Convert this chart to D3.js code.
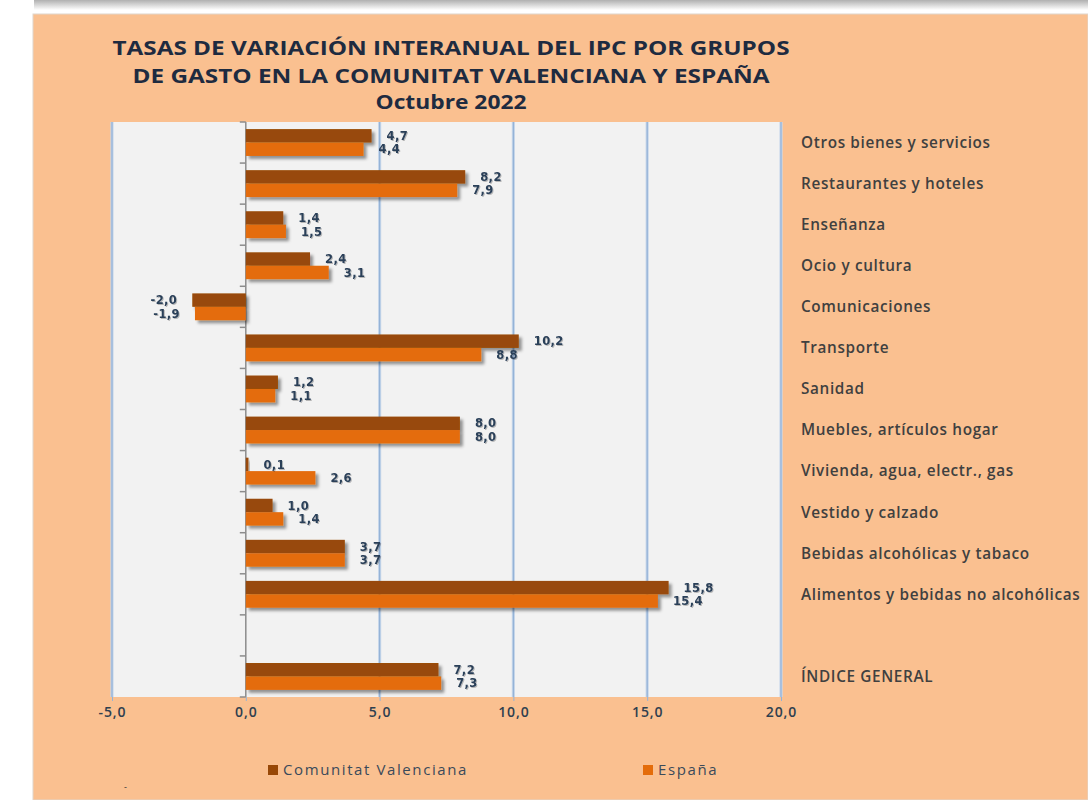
<!DOCTYPE html>
<html>
<head>
<meta charset="utf-8">
<script src="https://cdn.jsdelivr.net/npm/d3@7"></script>
<style>
  html, body { margin: 0; padding: 0; background: #ffffff; }
  svg { display: block; }
</style>
</head>
<body>
<div id="chart"></div>
<script>
// ---- Data ----
const categories = [
  "Otros bienes y servicios",
  "Restaurantes y hoteles",
  "Enseñanza",
  "Ocio y cultura",
  "Comunicaciones",
  "Transporte",
  "Sanidad",
  "Muebles, artículos hogar",
  "Vivienda, agua, electr., gas",
  "Vestido y calzado",
  "Bebidas alcohólicas y tabaco",
  "Alimentos y bebidas no alcohólicas",
  "",
  "ÍNDICE GENERAL"
];
const valuesCV = [4.7, 8.2, 1.4, 2.4, -2.0, 10.2, 1.2, 8.0, 0.1, 1.0, 3.7, 15.8, null, 7.2];
const valuesES = [4.4, 7.9, 1.5, 3.1, -1.9, 8.8, 1.1, 8.0, 2.6, 1.4, 3.7, 15.4, null, 7.3];
const seriesNames = ["Comunitat Valenciana", "España"];
const xTicks = [-5, 0, 5, 10, 15, 20];
const titleLines = [
  "TASAS DE VARIACIÓN INTERANUAL DEL IPC POR GRUPOS",
  "DE GASTO EN LA COMUNITAT VALENCIANA Y ESPAÑA",
  "Octubre 2022"
];

// ---- Styles ----
const W = 1088, H = 800;
const colors = ["#984807", "#E46C0A"];
const panelColor = "#FAC090";
const plotBg = "#F2F2F2";
const gridColor = "#95B3D7";
const labelColor = "#2A3F58";
const fmt = v => d3.format(".1f")(v).replace(".", ",").replace("−", "-");

const svg = d3.select("#chart").append("svg")
  .attr("width", W).attr("height", H)
  .attr("viewBox", `0 0 ${W} ${H}`);

const defs = svg.append("defs");
const sh = defs.append("filter").attr("id", "barShadow")
  .attr("x", "-10%").attr("y", "-30%").attr("width", "130%").attr("height", "180%");
sh.append("feDropShadow").attr("dx", 3).attr("dy", 3).attr("stdDeviation", 1.6)
  .attr("flood-color", "#000").attr("flood-opacity", 0.4);
const tsh = defs.append("filter").attr("id", "txtShadow")
  .attr("x", "-20%").attr("y", "-40%").attr("width", "150%").attr("height", "190%");
tsh.append("feDropShadow").attr("dx", 1).attr("dy", 1).attr("stdDeviation", 0.6)
  .attr("flood-color", "#000").attr("flood-opacity", 0.25);
const topGrad = defs.append("linearGradient").attr("id", "topGrad")
  .attr("x1", 0).attr("y1", 0).attr("x2", 0).attr("y2", 1);
topGrad.append("stop").attr("offset", "0%").attr("stop-color", "#b0b0b0");
topGrad.append("stop").attr("offset", "100%").attr("stop-color", "#ffffff");

// top shadow strip of the page
svg.append("rect").attr("x", 34).attr("y", 0).attr("width", W - 34).attr("height", 10)
  .attr("fill", "url(#topGrad)");

// panel
svg.append("rect").attr("x", 33).attr("y", 14).attr("width", W - 33).attr("height", H - 14)
  .attr("fill", panelColor).attr("stroke", "#e0d6cc").attr("stroke-width", 1);

// ---- Scales ----
const x = d3.scaleLinear().domain([-5, 20]).range([112, 781]);
const y = d3.scaleBand().domain(categories).range([122, 697]).paddingInner(0).paddingOuter(0);
const barH = y.bandwidth() * 0.327;

// plot background
svg.append("rect").attr("x", x(-5)).attr("y", 122)
  .attr("width", x(20) - x(-5)).attr("height", 697 - 122).attr("fill", plotBg);

// gridlines (soft edge + core)
const gridTicks = xTicks.filter(t => t !== 0);
svg.append("g").selectAll("line").data(gridTicks).join("line")
  .attr("x1", d => x(d)).attr("x2", d => x(d)).attr("y1", 122).attr("y2", 697)
  .attr("stroke", "#C9D8EB").attr("stroke-width", 3.2);
svg.append("g").selectAll("line").data(gridTicks).join("line")
  .attr("x1", d => x(d)).attr("x2", d => x(d)).attr("y1", 122).attr("y2", 697)
  .attr("stroke", gridColor).attr("stroke-width", 1.3);

// x axis (bottom) ticks and labels
const xAxis = d3.axisBottom(x).tickValues(xTicks).tickSize(4).tickPadding(12).tickFormat(fmt);
const gx = svg.append("g").attr("transform", "translate(0,697)").call(xAxis);
gx.select(".domain").remove();
gx.selectAll(".tick line").attr("stroke", gridColor);
gx.selectAll(".tick text")
  .attr("font-family", "'Open Sans', sans-serif").attr("font-size", 14)
  .attr("font-weight", 600).attr("letter-spacing", 0.9)
  .attr("fill", "#2F3F4F").attr("dy", "0.32em");

// y axis at zero with ticks at band boundaries
const boundaries = categories.map(c => y(c)).concat([y.range()[1]]);
const gy = svg.append("g");
gy.append("line").attr("x1", x(0)).attr("x2", x(0)).attr("y1", 122).attr("y2", 697)
  .attr("stroke", "#8c8c8c").attr("stroke-width", 1.5);
gy.selectAll("line.tk").data(boundaries).join("line").attr("class", "tk")
  .attr("x1", x(0) - 6).attr("x2", x(0)).attr("y1", d => d).attr("y2", d => d)
  .attr("stroke", "#8c8c8c").attr("stroke-width", 1.5);

// ---- Bars ----
const rows = categories.map((c, i) => ({ c, v: [valuesCV[i], valuesES[i]] }));
const bars = svg.append("g");
rows.forEach(r => {
  r.v.forEach((v, s) => {
    if (v === null) return;
    const by = y(r.c) + y.bandwidth() / 2 - barH + s * barH;
    bars.append("rect")
      .attr("x", Math.min(x(0), x(v)))
      .attr("y", by)
      .attr("width", Math.abs(x(v) - x(0)))
      .attr("height", barH)
      .attr("fill", colors[s])
      .attr("filter", "url(#barShadow)");
  });
});

// value labels
const labels = svg.append("g");
rows.forEach(r => {
  r.v.forEach((v, s) => {
    if (v === null) return;
    const cy = y(r.c) + y.bandwidth() / 2 - barH + s * barH + barH / 2;
    labels.append("text")
      .attr("x", v >= 0 ? x(v) + 15 : x(v) - 15)
      .attr("y", cy).attr("dy", "0.36em")
      .attr("text-anchor", v >= 0 ? "start" : "end")
      .attr("font-family", "'DejaVu Sans', sans-serif").attr("font-size", 11.5)
      .attr("font-weight", "bold").attr("letter-spacing", 0.4)
      .attr("fill", labelColor).attr("filter", "url(#txtShadow)")
      .text(fmt(v));
  });
});

// category labels on the right
svg.append("g").selectAll("text").data(categories.filter(c => c !== "")).join("text")
  .attr("x", 801).attr("y", d => y(d) + y.bandwidth() / 2).attr("dy", "0.35em")
  .attr("font-family", "'Open Sans', sans-serif").attr("font-size", 15.3)
  .attr("font-weight", 600).attr("letter-spacing", 0.65).attr("fill", "#404040")
  .text(d => d);

// ---- Title ----
const titleY = [55, 83, 109];
const titleW = [677, 637, 151];
svg.append("g").selectAll("text").data(titleLines).join("text")
  .attr("x", 451).attr("y", (d, i) => titleY[i])
  .attr("text-anchor", "middle")
  .attr("font-family", "'Open Sans', sans-serif").attr("font-size", 19)
  .attr("font-weight", "bold").attr("fill", "#1E2B40")
  .attr("textLength", (d, i) => titleW[i]).attr("lengthAdjust", "spacingAndGlyphs")
  .text(d => d);

// ---- Legend ----
const legendX = [268, 643];
const lg = svg.append("g");
seriesNames.forEach((n, i) => {
  lg.append("rect").attr("x", legendX[i]).attr("y", 765).attr("width", 10).attr("height", 10)
    .attr("fill", colors[i]);
  lg.append("text").attr("x", legendX[i] + 15).attr("y", 770).attr("dy", "0.35em")
    .attr("font-family", "'Open Sans', sans-serif").attr("font-size", 15)
    .attr("letter-spacing", 1.6)
    .attr("fill", "#3a4a5a").text(n);
});
svg.append("text").attr("x", 124).attr("y", 790)
  .attr("font-family", "'Open Sans', sans-serif").attr("font-size", 9)
  .attr("fill", "#333").text("-");
</script>
</body>
</html>
